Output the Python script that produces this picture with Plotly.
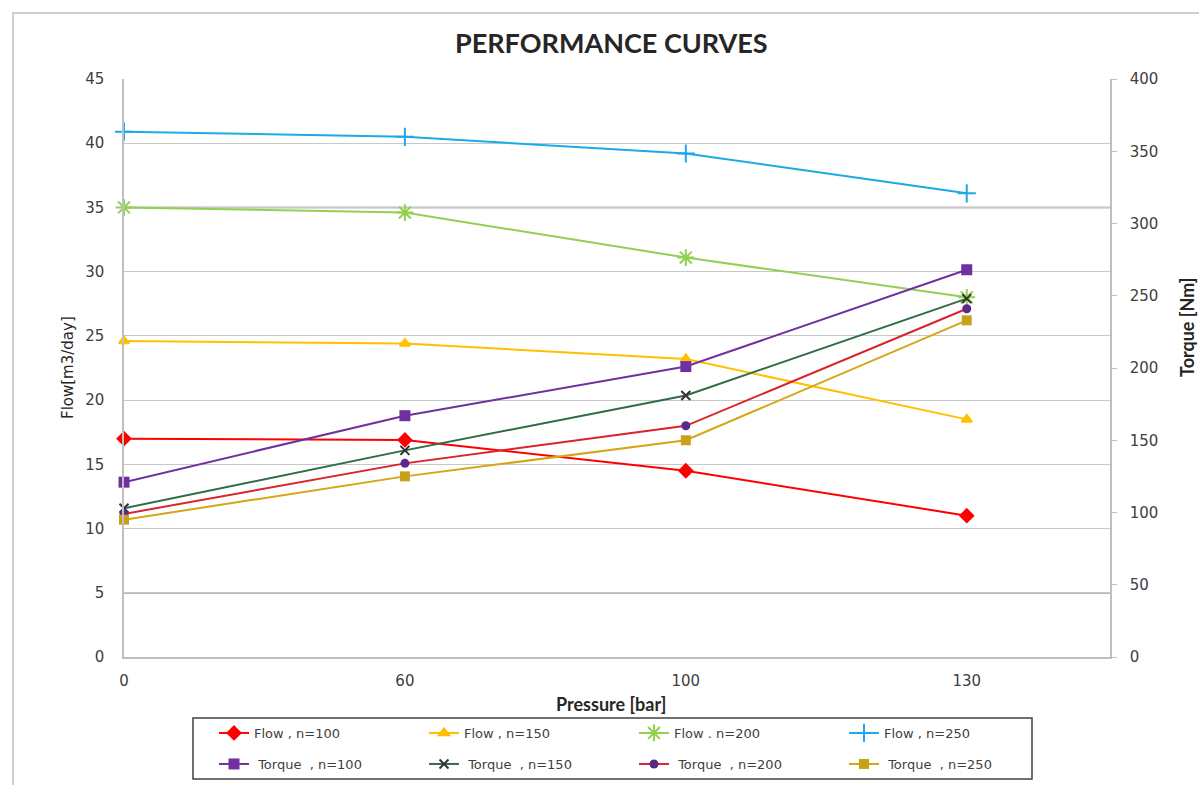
import plotly.graph_objects as go

# Pressure categories [bar]
pressure = ["0", "60", "100", "130"]

# Flow [m3/day] at each pump speed
flow_n100 = [17.0, 16.9, 14.5, 11.0]
flow_n150 = [24.6, 24.4, 23.2, 18.5]
flow_n200 = [35.0, 34.6, 31.1, 28.0]
flow_n250 = [40.9, 40.5, 39.2, 36.1]

# Torque [Nm] at each pump speed
torque_n100 = [121, 167, 201, 268]
torque_n150 = [103, 143, 181, 248]
torque_n200 = [99, 134, 160, 241]
torque_n250 = [95, 125, 150, 233]

flow_ticks = list(range(0, 50, 5))
torque_ticks = list(range(0, 450, 50))

TICK_FONT = dict(family="DejaVu Sans", size=15, color="#404040")
LEG_FONT = dict(family="DejaVu Sans", size=13, color="#404040")

fig = go.Figure()

flow_specs = [
    ("Flow , n=100", flow_n100, "#FF0000", "diamond", 10, "#FF0000"),
    ("Flow , n=150", flow_n150, "#FFC000", "triangle-up", 9, "#FFC000"),
    ("Flow . n=200", flow_n200, "#92D050", "asterisk-open", 14, "#92D050"),
    ("Flow , n=250", flow_n250, "#1CA9E6", "cross-thin-open", 13, "#1CA9E6"),
]
for name, vals, col, sym, size, mcol in flow_specs:
    fig.add_trace(go.Scatter(
        x=pressure, y=vals, name=name, mode="lines+markers",
        line=dict(color=col, width=2),
        marker=dict(symbol=sym, size=size, color=mcol,
                    line=dict(color=mcol, width=2)),
        yaxis="y", legend="legend", cliponaxis=False,
    ))

torque_specs = [
    ("\u00a0Torque\u00a0 , n=100", torque_n100, "#7030A0", "square", 11, "#7030A0"),
    ("\u00a0Torque\u00a0 , n=150", torque_n150, "#2F6B45", "x-thin-open", 9, "#333333"),
    ("\u00a0Torque\u00a0 , n=200", torque_n200, "#D9232D", "circle", 9, "#5B2A86"),
    ("\u00a0Torque\u00a0 , n=250", torque_n250, "#D4A514", "square", 10, "#C9A01A"),
]
for name, vals, col, sym, size, mcol in torque_specs:
    fig.add_trace(go.Scatter(
        x=pressure, y=vals, name=name, mode="lines+markers",
        line=dict(color=col, width=2),
        marker=dict(symbol=sym, size=size, color=mcol,
                    line=dict(color=mcol, width=2 if "open" in sym else 0)),
        yaxis="y2", legend="legend2", cliponaxis=False,
    ))

W, H = 1199, 785
ML, MR, MT, MB = 124, 89, 79, 128
PW, PH = W - ML - MR, H - MT - MB


def px_x(p):
    return (p - ML) / PW


def px_y(p):
    return (H - MB - p) / PH


fig.update_layout(
    width=W, height=H,
    margin=dict(l=ML, r=MR, t=MT, b=MB, autoexpand=False),
    paper_bgcolor="white", plot_bgcolor="white",
    showlegend=True,
    xaxis=dict(
        type="category", range=[0, 3.51],
        showgrid=False, zeroline=False,
        showline=True, linecolor="#BFBFBF", linewidth=1.5,
        ticks="", tickfont=TICK_FONT, ticklabelstandoff=9,
    ),
    yaxis=dict(
        range=[0, 45], tickvals=flow_ticks,
        showgrid=True, gridcolor="#C8C8C8", gridwidth=1.2,
        zeroline=False, showline=True, linecolor="#BFBFBF", linewidth=1.5,
        ticks="", tickfont=TICK_FONT, ticklabelstandoff=15,
    ),
    yaxis2=dict(
        range=[0, 400], tickvals=torque_ticks, overlaying="y", side="right",
        showgrid=False, zeroline=False,
        showline=True, linecolor="#BFBFBF", linewidth=1.5,
        ticks="outside", ticklen=5, tickcolor="#BFBFBF",
        tickfont=TICK_FONT, ticklabelstandoff=10,
    ),
    legend=dict(
        orientation="h", x=px_x(214), xanchor="left",
        y=px_y(733), yanchor="middle",
        entrywidth=165, font=LEG_FONT, bgcolor="rgba(0,0,0,0)",
        itemclick=False,
    ),
    legend2=dict(
        orientation="h", x=px_x(214), xanchor="left",
        y=px_y(764), yanchor="middle",
        entrywidth=165, font=LEG_FONT, bgcolor="rgba(0,0,0,0)",
        itemclick=False,
    ),
    annotations=[
        dict(text="<b>PERFORMANCE CURVES</b>", xref="paper", yref="paper",
             x=px_x(611), y=px_y(42), xanchor="center", yanchor="middle",
             showarrow=False, font=dict(family="Lato", size=27, color="#262626")),
        dict(text="<b>Pressure [bar]</b>", xref="paper", yref="paper",
             x=px_x(611), y=px_y(704), xanchor="center", yanchor="middle",
             showarrow=False, font=dict(family="Lato", size=18, color="#262626")),
        dict(text="Flow[m3/day]", xref="paper", yref="paper",
             x=px_x(68), y=px_y(368), xanchor="center", yanchor="middle",
             textangle=-90, showarrow=False,
             font=dict(family="DejaVu Sans", size=15, color="#262626")),
        dict(text="<b>Torque [Nm]</b>", xref="paper", yref="paper",
             x=px_x(1187), y=px_y(328), xanchor="center", yanchor="middle",
             textangle=-90, showarrow=False,
             font=dict(family="Lato", size=18, color="#262626")),
    ],
    shapes=[
        # darker reference lines
        dict(type="line", xref="paper", yref="y", x0=0, x1=1, y0=35, y1=35,
             line=dict(color="#707070", width=1.5), layer="below"),
        dict(type="line", xref="paper", yref="y", x0=0, x1=1, y0=5, y1=5,
             line=dict(color="#707070", width=1.5), layer="below"),
        # legend frame
        dict(type="rect", xref="paper", yref="paper",
             x0=px_x(193), x1=px_x(1032), y0=px_y(779), y1=px_y(718),
             line=dict(color="#404040", width=1.5), fillcolor="rgba(0,0,0,0)"),
        # chart area frame
        dict(type="rect", xref="paper", yref="paper",
             x0=px_x(13), x1=px_x(1230), y0=px_y(820), y1=px_y(13),
             line=dict(color="#D0D0D0", width=2), fillcolor="rgba(0,0,0,0)"),
    ],
)

fig.write_html("out.html")
